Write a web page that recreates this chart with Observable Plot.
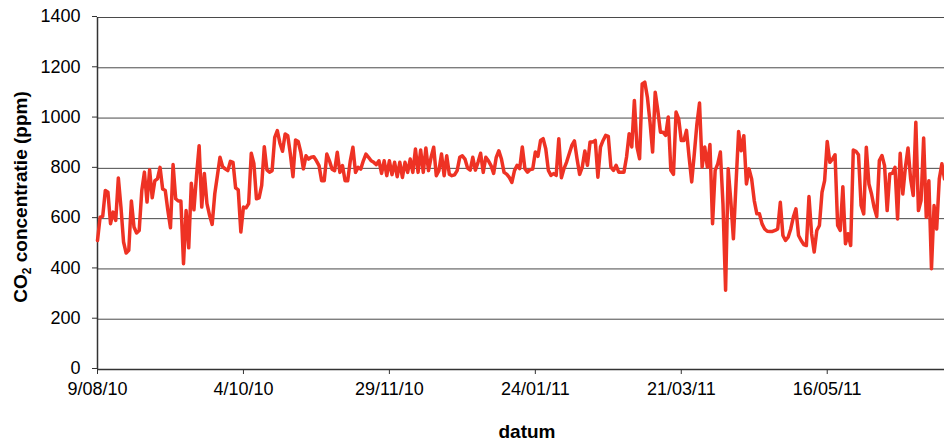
<!DOCTYPE html>
<html><head><meta charset="utf-8">
<script src="https://cdn.jsdelivr.net/npm/d3@7"></script>
<script src="https://cdn.jsdelivr.net/npm/@observablehq/plot@0.6"></script>
<style>html,body{margin:0;padding:0;background:#fff;} svg{display:block}</style>
</head><body><div id="chart"></div>
<script>
// Daily CO2 readings starting at startDate
const startDate = "2010-08-09";
const endDate = "2011-06-30";
const co2 = [
513, 606, 609, 712, 705, 580, 626, 593, 762, 646,
507, 463, 474, 670, 567, 543, 553, 712, 785, 666,
794, 683, 751, 758, 804, 718, 712, 632, 564, 815,
679, 670, 670, 421, 632, 484, 741, 635, 771, 890,
646, 780, 660, 613, 577, 699, 771, 844, 807, 798,
791, 828, 824, 722, 714, 547, 646, 643, 660, 860,
820, 679, 683, 732, 886, 794, 785, 791, 923, 950,
900, 868, 937, 930, 857, 767, 913, 907, 864, 798,
850, 837, 844, 846, 830, 811, 751, 751, 857, 830,
797, 791, 864, 784, 811, 751, 751, 830, 884, 784,
804, 797, 830, 857, 844, 830, 824, 815, 830, 780,
830, 771, 830, 775, 824, 767, 824, 764, 824, 784,
837, 784, 877, 784, 873, 784, 881, 791, 844, 884,
771, 791, 857, 771, 850, 777, 771, 774, 791, 844,
850, 837, 801, 793, 844, 793, 824, 860, 784, 844,
830, 811, 780, 844, 870, 837, 784, 777, 764, 744,
791,
812, 799, 885, 799, 785, 795, 797, 865, 848,
911, 918, 878, 792, 772, 779, 772, 918, 763, 799,
825, 858, 891, 909, 838, 776, 805, 869, 812, 905,
905, 911, 765, 885, 911, 931, 927, 805, 792, 812,
785, 785, 785, 845, 938, 885, 1070, 885, 838, 1136,
1143, 1083, 984, 865, 1103, 1030, 944, 944, 931, 1004,
792, 776, 1024, 997, 911, 911, 951, 845, 746, 858,
977, 1060, 805, 885, 805, 895, 580, 792, 818, 865,
659, 315,
798, 672, 520, 738, 947, 870, 930, 738, 798, 758,
672, 619, 619, 579, 559, 550, 549, 549, 553, 559,
665, 533, 513, 526, 559, 606, 639, 533, 513, 497,
493, 688, 540, 467, 553, 573, 705, 751, 907, 824,
837, 854, 573, 553, 727, 500, 540, 493, 873, 868,
854, 652, 619, 884, 738, 698, 645, 608, 831, 851,
811, 632, 778, 780, 804, 599, 860, 698, 804, 881,
758, 692, 983, 632, 672, 921, 606, 751, 401, 652,
559, 758, 818, 758
];
const yTicks = [0, 200, 400, 600, 800, 1000, 1200, 1400];
const xTickDates = ["2010-08-09", "2010-10-04", "2010-11-29", "2011-01-24", "2011-03-21", "2011-05-16"];
const xTickLabels = ["9/08/10", "4/10/10", "29/11/10", "24/01/11", "21/03/11", "16/05/11"];
const xTitle = "datum";
const yTitleParts = ["CO", "2", " concentratie (ppm)"];

const start = new Date(startDate);
const data = co2.map((v, i) => ({date: d3.utcDay.offset(start, i), v}));
const tickDates = xTickDates.map(d => new Date(d));
const labelMap = new Map(tickDates.map((d, i) => [+d, xTickLabels[i]]));

const plot = Plot.plot({
  width: 944, height: 441,
  marginTop: 17, marginBottom: 72, marginLeft: 97, marginRight: 0,
  style: {fontFamily: "'Liberation Sans', Arial, sans-serif", fontSize: "18px", color: "#000", background: "#fff"},
  x: {type: "utc", domain: [start, new Date(endDate)]},
  y: {domain: [0, 1400]},
  marks: [
    Plot.ruleY(yTicks.filter(t => t > 0), {stroke: "#4a4a4a", strokeWidth: 1}),
    Plot.axisY({ticks: yTicks, tickFormat: d => String(d), tickSize: 5, tickPadding: 12, label: null, fontSize: 18, dy: -1, stroke: "#333"}),
    Plot.axisX({ticks: tickDates, tickFormat: d => labelMap.get(+d), tickSize: 5, tickPadding: 8, label: null, fontSize: 18, stroke: "#333"}),
    Plot.ruleX([start], {stroke: "#333", strokeWidth: 1.5}),
    Plot.ruleY([0], {stroke: "#333", strokeWidth: 1.5}),
    Plot.lineY(data, {x: "date", y: "v", stroke: "#ee3224", strokeWidth: 3.5, strokeLinejoin: "round"})
  ]
});

const svg = d3.select(plot);
svg.append("text")
  .attr("x", 527).attr("y", 438)
  .attr("text-anchor", "middle")
  .attr("font-weight", "bold").attr("font-size", 19)
  .attr("font-family", "'Liberation Sans', Arial, sans-serif")
  .text(xTitle);
const yt = svg.append("text")
  .attr("transform", "translate(27,197) rotate(-90)")
  .attr("text-anchor", "middle")
  .attr("font-weight", "bold").attr("font-size", 19)
  .attr("font-family", "'Liberation Sans', Arial, sans-serif");
yt.append("tspan").text(yTitleParts[0]);
yt.append("tspan").attr("font-size", 12).attr("dy", "0.35em").text(yTitleParts[1]);
yt.append("tspan").attr("dy", "-0.22em").text(yTitleParts[2]);

document.getElementById("chart").appendChild(plot);
</script>
</body></html>
